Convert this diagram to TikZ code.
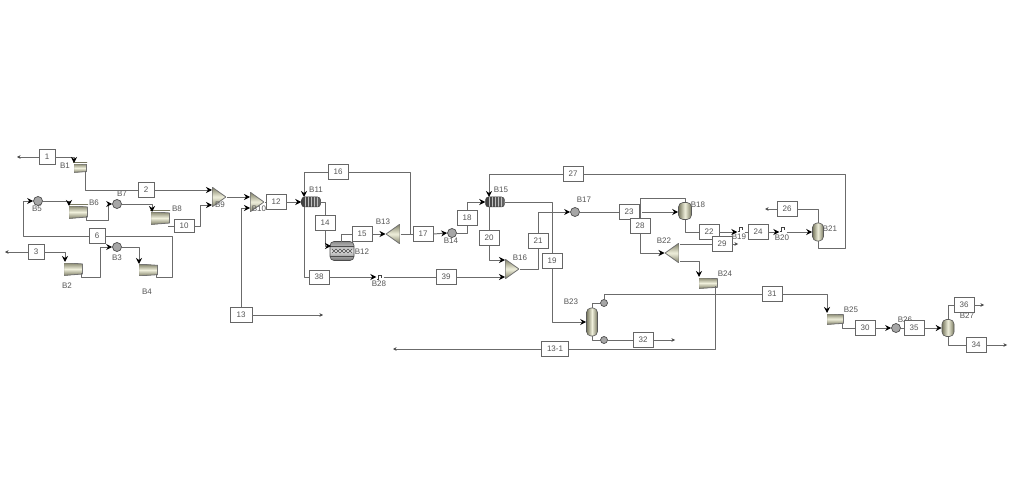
\documentclass[tikz,border=0pt]{standalone}
\usepackage{fontspec}
\setmainfont{Liberation Sans}
\usetikzlibrary{arrows.meta}
\colorlet{ln}{black!58}
\definecolor{txt}{HTML}{555555}
\definecolor{eqd}{HTML}{77775E}
\definecolor{eql}{HTML}{F0F0DC}
\tikzset{
  x=1pt,y=-1pt,
  st/.style={draw=ln,line width=0.95pt,line join=round},
  ar/.style={st,-{Stealth[length=6pt,width=6pt,inset=2pt,black]}},
  fr/.style={st,-{Stealth[length=3.5pt,width=3.5pt,black!70]}},
  bx/.style={draw=black!60,line width=0.9pt,fill=white,text=txt,font=\fontsize{8}{8}\selectfont,inner sep=0,minimum width=20pt,minimum height=15pt},
  sb/.style={bx,minimum width=16pt},
  tg/.style={text=txt,font=\fontsize{8}{8}\selectfont,inner sep=0},
  eqbase/.style={rectangle,inner sep=0,outer sep=0,draw=white,line width=0.4pt,top color=eqd,bottom color=eqd,middle color=eql},
  comp/.style 2 args={eqbase,minimum width=#1,minimum height=#2,
    path picture={
      \fill[white] (path picture bounding box.north west)--(path picture bounding box.north east)--([yshift=0.36*#2]path picture bounding box.east)--cycle;
      \fill[white] (path picture bounding box.south west)--(path picture bounding box.south east)--([yshift=-0.36*#2]path picture bounding box.east)--cycle;
      \draw[black!55,line width=0.8pt] ([xshift=.6pt,yshift=-.6pt]path picture bounding box.north west)--([xshift=-.6pt,yshift=0.36*#2]path picture bounding box.east)--([xshift=-.6pt,yshift=-0.36*#2]path picture bounding box.east)--([xshift=.6pt,yshift=.6pt]path picture bounding box.south west)--cycle;}},
  mixr/.style={eqbase,minimum width=15pt,minimum height=21pt,
    path picture={
      \fill[white] (path picture bounding box.north west)--(path picture bounding box.north east)--(path picture bounding box.east)--cycle;
      \fill[white] (path picture bounding box.south west)--(path picture bounding box.south east)--(path picture bounding box.east)--cycle;
      \draw[black!55,line width=0.8pt] ([xshift=.6pt,yshift=-.6pt]path picture bounding box.north west)--([xshift=-.6pt]path picture bounding box.east)--([xshift=.6pt,yshift=.6pt]path picture bounding box.south west)--cycle;}},
  mixl/.style={eqbase,minimum width=15pt,minimum height=21pt,
    path picture={
      \fill[white] (path picture bounding box.north east)--(path picture bounding box.north west)--(path picture bounding box.west)--cycle;
      \fill[white] (path picture bounding box.south east)--(path picture bounding box.south west)--(path picture bounding box.west)--cycle;
      \draw[black!55,line width=0.8pt] ([xshift=-.6pt,yshift=-.6pt]path picture bounding box.north east)--([xshift=.6pt]path picture bounding box.west)--([xshift=-.6pt,yshift=.6pt]path picture bounding box.south east)--cycle;}},
  hx/.style={circle,draw=black!70,line width=0.7pt,fill=black!35,inner sep=0,minimum size=9pt},
  tb/.style={rectangle,rounded corners=3pt,draw=black!75,line width=0.5pt,left color=black!75,right color=black!60,inner sep=0,minimum width=19pt,minimum height=10pt,
    path picture={\foreach \k in {-6,-3,0,3,6}{\draw[black!25,line width=0.4pt] ([xshift=\k pt]path picture bounding box.north)--([xshift=\k pt]path picture bounding box.south);}}},
  col/.style={rectangle,rounded corners=4.5pt,draw=black!65,line width=0.6pt,left color=eqd,right color=eqd,middle color=eql,inner sep=0},
  rct/.style={rectangle,rounded corners=4pt,draw=black!70,line width=0.6pt,top color=black!45,bottom color=black!55,middle color=black!12,inner sep=0,minimum width=24pt,minimum height=19pt,
    path picture={\foreach \k in {-8,-4,0,4,8}{\draw[black!70,line width=0.5pt] ([xshift=\k pt-2pt,yshift=2pt]path picture bounding box.center)--([xshift=\k pt+2pt,yshift=-2pt]path picture bounding box.center) ([xshift=\k pt-2pt,yshift=-2pt]path picture bounding box.center)--([xshift=\k pt+2pt,yshift=2pt]path picture bounding box.center);}
      \draw[black!70,line width=0.5pt] ([yshift=5pt]path picture bounding box.west)--([yshift=5pt]path picture bounding box.east) ([yshift=-5pt]path picture bounding box.west)--([yshift=-5pt]path picture bounding box.east);}},
  vlv/.style={inner sep=0,minimum width=7pt,minimum height=6pt,
    path picture={\draw[black!75,line width=0.7pt] ([xshift=-3pt,yshift=-2pt]path picture bounding box.center)--++(1.5pt,0)--++(0,4pt)--++(3pt,0)--++(0,-3pt);}},
}
\begin{document}
\begin{tikzpicture}
\useasboundingbox[fill=white] (0,0) rectangle (1024,494);
% equipment
\node[comp={14pt}{10pt}] (B1) at (80,168) {};
\node[comp={20pt}{14pt}] (B2) at (73,269) {};
\node[hx] (B3) at (117,247) {};
\node[comp={20pt}{13pt}] (B4) at (148,270) {};
\node[hx] (B5) at (38,201) {};
\node[comp={20pt}{14pt}] (B6) at (78,212) {};
\node[hx] (B7) at (117,204) {};
\node[comp={20pt}{14pt}] (B8) at (160,218) {};
\node[mixr] (B9) at (219,197) {};
\node[mixr] (B10) at (257,202) {};
\node[tb] (B11) at (311,202) {};
\node[rct] (B12) at (342,251) {};
\node[mixl] (B13) at (393,234) {};
\node[hx] (B14) at (452,233) {};
\node[tb] (B15) at (495,202) {};
\node[mixr] (B16) at (512,269) {};
\node[hx] (B17) at (575,212) {};
\node[col,minimum width=13pt,minimum height=17pt] (B18) at (685,211) {};
\node[vlv] (B19) at (741,229) {};
\node[vlv] (B20) at (783,229) {};
\node[col,minimum width=11pt,minimum height=18pt] (B21) at (818,232) {};
\node[mixl] (B22) at (672,253) {};
\node[col,minimum width=11pt,minimum height=28pt] (B23) at (592,322) {};
\node[comp={20pt}{12pt}] (B24) at (708,283) {};
\node[comp={18pt}{12pt}] (B25) at (835,319) {};
\node[hx] (B26) at (896,328) {};
\node[col,minimum width=12pt,minimum height=17pt] (B27) at (948,328) {};
\node[vlv] (B28) at (380,277) {};
\node[hx,minimum size=7pt] (C23) at (604,303) {};
\node[hx,minimum size=7pt] (R23) at (604,340) {};
% equipment labels
\node[tg] (t1) at (65,166) {B1};
\node[tg] (t2) at (67,286) {B2};
\node[tg] (t3) at (117,258) {B3};
\node[tg] (t4) at (147,292) {B4};
\node[tg] (t5) at (37,209) {B5};
\node[tg] (t6) at (94,203) {B6};
\node[tg] (t7) at (122,194) {B7};
\node[tg] (t8) at (177,209) {B8};
\node[tg] (t9) at (220,205) {B9};
\node[tg] (t10) at (259,209) {B10};
\node[tg] (t11) at (316,190) {B11};
\node[tg] (t12) at (362,252) {B12};
\node[tg] (t13) at (383,222) {B13};
\node[tg] (t14) at (451,241) {B14};
\node[tg] (t15) at (501,190) {B15};
\node[tg] (t16) at (520,258) {B16};
\node[tg] (t17) at (584,200) {B17};
\node[tg] (t18) at (698,205) {B18};
\node[tg] (t19) at (739,237) {B19};
\node[tg] (t20) at (782,238) {B20};
\node[tg] (t21) at (830,229) {B21};
\node[tg] (t22) at (664,241) {B22};
\node[tg] (t23) at (571,302) {B23};
\node[tg] (t24) at (725,274) {B24};
\node[tg] (t25) at (851,310) {B25};
\node[tg] (t26) at (905,320) {B26};
\node[tg] (t27) at (967,316) {B27};
\node[tg] (t28) at (379,284) {B28};
% stream boxes
\node[sb] (s1) at (47,157) {1};
\node[sb] (s2) at (146,190) {2};
\node[sb] (s3) at (36,252) {3};
\node[sb] (s6) at (97,236) {6};
\node[bx,minimum height=13pt] (s10) at (184,226) {10};
\node[bx] (s12) at (276,202) {12};
\node[bx,minimum width=22pt] (s13) at (241,315) {13};
\node[bx] (s14) at (325,223) {14};
\node[bx] (s15) at (362,234) {15};
\node[bx] (s16) at (338,172) {16};
\node[bx] (s17) at (423,234) {17};
\node[bx] (s18) at (467,218) {18};
\node[bx] (s19) at (552,261) {19};
\node[bx] (s20) at (489,238) {20};
\node[bx] (s21) at (538,241) {21};
\node[bx] (s22) at (709,232) {22};
\node[bx] (s23) at (629,212) {23};
\node[bx] (s24) at (758,232) {24};
\node[bx] (s26) at (787,209) {26};
\node[bx] (s27) at (573,174) {27};
\node[bx] (s28) at (640,226) {28};
\node[bx] (s29) at (722,244) {29};
\node[bx] (s30) at (865,328) {30};
\node[bx] (s31) at (772,294) {31};
\node[bx] (s32) at (643,340) {32};
\node[bx] (s34) at (976,345) {34};
\node[bx] (s35) at (914,328) {35};
\node[bx] (s36) at (964,305) {36};
\node[bx,minimum height=14pt] (s38) at (319,277) {38};
\node[bx] (s39) at (446,277) {39};
\node[bx,minimum width=27pt] (s131) at (555,349) {13-1};
% free ends and ports
\coordinate (f1) at (17,157);
\coordinate (f3) at (5,252);
\coordinate (f13) at (323,315);
\coordinate (f131) at (393,349);
\coordinate (f26) at (765,209);
\coordinate (f29) at (738,244);
\coordinate (f32) at (675,340);
\coordinate (f34) at (1007,345);
\coordinate (f36) at (984,305);
\coordinate (pB1) at (74,163);
\coordinate (oB1) at (85,171);
\coordinate (pB9a) at (212,190);
\coordinate (pB9b) at (212,205);
\coordinate (pB10a) at (250,197);
\coordinate (pB10b) at (250,208);
\coordinate (pB16a) at (505,260);
\coordinate (pB16b) at (505,277);
\coordinate (oB2) at (81,273);
\coordinate (oB4) at (156,274);
\coordinate (oB6) at (86,216);
\coordinate (oB8) at (168,226);
\coordinate (iB2) at (65,262);
\coordinate (iB4) at (139,264);
\coordinate (iB6) at (69,206);
\coordinate (iB8) at (152,212);
\coordinate (iB11) at (304,197);
\coordinate (oB11) at (304,207);
\coordinate (iB15) at (489,197);
\coordinate (oB15) at (489,207);
\coordinate (oB22a) at (680,244);
\coordinate (oB22b) at (680,261);
\coordinate (iB24) at (699,277);
\coordinate (oB24) at (715,286);
\coordinate (iB25) at (827,313);
\coordinate (oB25) at (842,323);
\coordinate (iB12) at (331,246);
\coordinate (oB12) at (341,242);
\coordinate (w23) at (642,212);
\coordinate (oB13) at (410,234);
% connectors
\draw[fr] (s1.west) -- (f1);
\draw[ar] (s1.east) -| (pB1);
\draw[st] (oB1) |- (s2.west);
\draw[ar] (s2.east) -- (pB9a);
\draw[fr] (s3.west) -- (f3);
\draw[ar] (s3.east) -| (iB2);
\draw[ar] (oB2) -- (81,277) -- (100,277) |- (B3.west);
\draw[ar] (B3.east) -- (139,247) -- (iB4);
\draw[st] (oB4) -- (156,277) -- (172,277) |- (s6.east);
\draw[ar] (s6.west) -- (23,236) |- (B5.west);
\draw[ar] (B5.east) -- (69,201) -- (iB6);
\draw[ar] (oB6) -- (86,220) -- (108,220) -- (108,204) -- (B7.west);
\draw[ar] (B7.east) -- (152,204) -- (iB8);
\draw[st] (oB8) -- (s10.west);
\draw[ar] (s10.east) -- (200,226) |- (pB9b);
\draw[ar] (B9.east) -- (pB10a);
\draw[st] (B10.east) -- (s12.west);
\draw[ar] (s12.east) -- (B11.west);
\draw[ar] (s13.north) |- (pB10b);
\draw[fr] (s13.east) -- (f13);
\draw[ar] (s16.west) -| (iB11);
\draw[st] (s16.east) -- (410,172) -- (oB13);
\draw[st] (B11.east) -- (325,202) -- (s14.north);
\draw[ar] (s14.south) |- (iB12);
\draw[st] (oB12) |- (s15.west);
\draw[ar] (s15.east) -- (B13.west);
\draw[st] (B13.east) -- (s17.west);
\draw[ar] (s17.east) -- (B14.west);
\draw[st] (B14.east) -| (s18.south);
\draw[ar] (s18.north) |- (B15.west);
\draw[ar] (s27.west) -| (iB15);
\draw[st] (oB15) -- (s20.north);
\draw[ar] (s20.south) |- (pB16a);
\draw[st] (oB11) |- (s38.west);
\draw[ar] (s38.east) -- (B28.west);
\draw[st] (B28.east) -- (s39.west);
\draw[ar] (s39.east) -- (pB16b);
\draw[st] (B16.east) -| (s21.south);
\draw[ar] (s21.north) |- (B17.west);
\draw[st] (B17.east) -- (s23.west);
\draw[st] (B15.east) -| (s19.north);
\draw[ar] (s19.south) |- (B23.west);
\draw[ar] (w23) -- (w23 -| B18.west);
\draw[st] (B18.north) -- (685,198) -| (s28.north);
\draw[ar] (s28.south) |- (B22.west);
\draw[st] (B18.south) |- (s22.west);
\draw[ar] (s22.east) -- (B19.west |- s22.east);
\draw[st] (B19.east |- s24.west) -- (s24.west);
\draw[ar] (s24.east) -- (B20.west |- s24.east);
\draw[ar] (B20.east |- B21.west) -- (B21.west);
\draw[st] (B21.north) |- (s26.east);
\draw[fr] (s26.west) -- (f26);
\draw[st] (B21.south) -- (818,248) -- (845,248) |- (s27.east);
\draw[st] (oB22a) -- (s29.west);
\draw[fr] (s29.east) -- (f29);
\draw[ar] (oB22b) -- (699,261) -- (iB24);
\draw[st] (oB24) |- (s131.east);
\draw[fr] (s131.west) -- (f131);
\draw[st] (B23.north) |- (C23.west);
\draw[st] (B23.south) |- (R23.west);
\draw[st] (C23.north) |- (s31.west);
\draw[ar] (s31.east) -| (iB25);
\draw[st] (R23.east) -- (s32.west);
\draw[fr] (s32.east) -- (f32);
\draw[st] (oB25) |- (s30.west);
\draw[ar] (s30.east) -- (B26.west);
\draw[st] (B26.east) -- (s35.west);
\draw[ar] (s35.east) -- (B27.west);
\draw[st] (B27.north) |- (s36.west);
\draw[fr] (s36.east) -- (f36);
\draw[st] (B27.south) |- (s34.west);
\draw[fr] (s34.east) -- (f34);
\end{tikzpicture}
\end{document}
